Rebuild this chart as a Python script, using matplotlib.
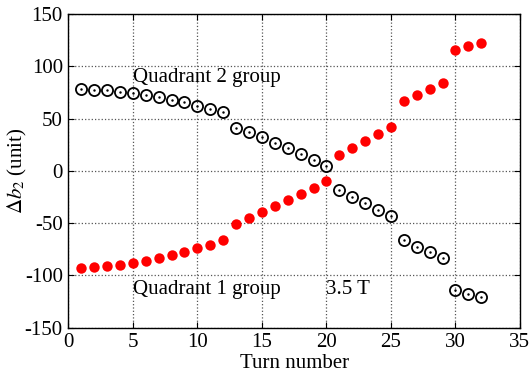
import matplotlib.pyplot as plt
import numpy as np

plt.rcParams['font.family'] = ['Liberation Serif', 'DejaVu Serif']
plt.rcParams['mathtext.fontset'] = 'stix'
plt.rcParams['axes.unicode_minus'] = False

turns = np.arange(1, 33)

# quadrant 2 group (open circles)
quad2 = [77.9, 77.6, 76.9, 75.7, 74.3, 72.8, 70.2, 68.0, 65.4, 62.2, 59.0, 55.8,
         41.3, 37.2, 32.0, 26.6, 21.6, 15.8, 10.2, 4.8,
         -18.6, -24.7, -30.8, -37.2, -43.3, -66.6, -72.4, -77.9, -83.3,
         -114.1, -117.6, -120.2]

# quadrant 1 group (filled red)
quad1 = [-92.6, -92.0, -91.0, -89.7, -88.5, -85.9, -83.3, -80.8, -77.6, -74.0,
         -70.5, -66.3, -50.6, -45.5, -39.7, -34.0, -28.2, -21.8, -16.0, -9.6,
         15.4, 21.8, 28.2, 35.0, 41.7, 66.3, 72.1, 78.2, 84.0,
         115.7, 119.2, 122.4]

fig = plt.figure(figsize=(5.3, 3.75), dpi=100)
ax = fig.add_axes([0.129, 0.126, 0.852, 0.837])

ax.plot(turns, quad1, 'o', color='red', markersize=7.5, markeredgewidth=0, zorder=3)
ax.plot(turns, quad2, 'o', mfc='none', mec='black', markersize=8, markeredgewidth=1.3, zorder=3)
ax.plot(turns, quad2, '.', color='black', markersize=1.5, zorder=4)

ax.set_xlim(0, 35)
ax.set_ylim(-150, 150)
ax.set_xticks(np.arange(0, 36, 5))
ax.set_yticks(np.arange(-150, 151, 50))
ax.grid(True, linestyle=':', color='#555555', linewidth=0.9)
ax.tick_params(direction='in', top=True, right=True, labelsize=15, length=4, pad=4)
for s in ax.spines.values():
    s.set_linewidth(1.0)

ax.set_xlabel('Turn number', fontsize=15, labelpad=1)
ax.set_ylabel(r'$\Delta b_2$ (unit)', fontsize=15)
ax.yaxis.set_label_coords(-0.088, 0.5)

ax.text(5.0, 89, 'Quadrant 2 group', fontsize=15, va='center', ha='left')
ax.text(5.0, -113, 'Quadrant 1 group', fontsize=15, va='center', ha='left')
ax.text(20.0, -113, '3.5 T', fontsize=15, va='center', ha='left')

fig.savefig('out.png', dpi=100)
